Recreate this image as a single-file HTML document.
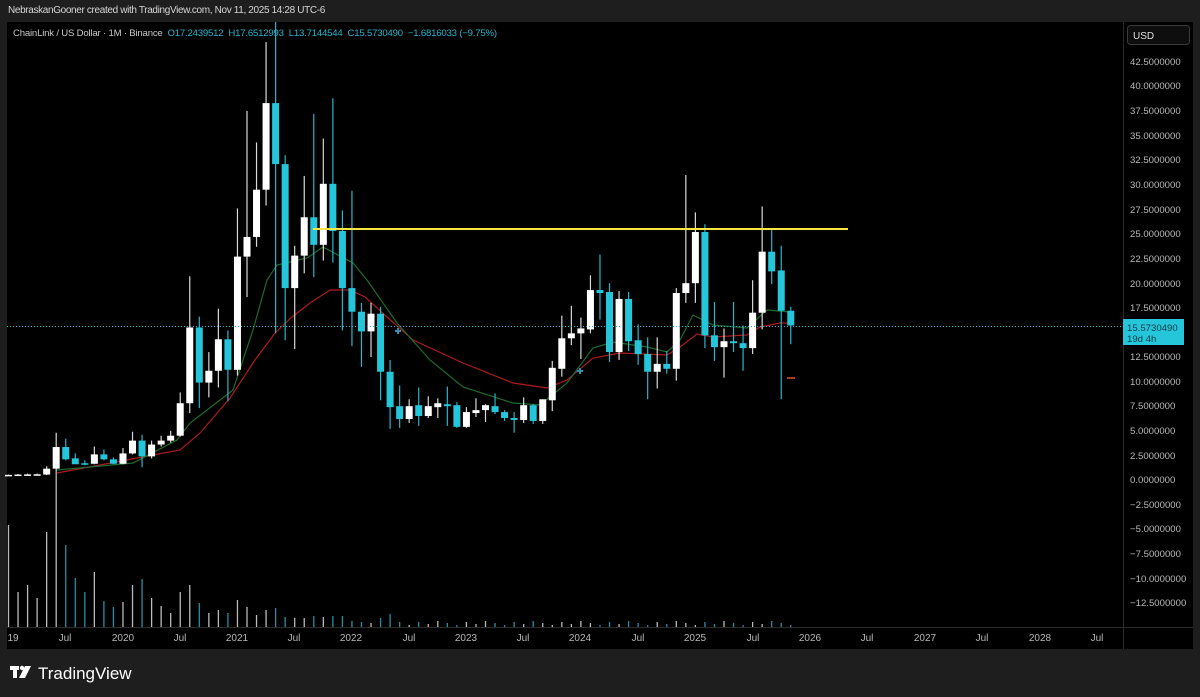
<!DOCTYPE html>
<html><head><meta charset="utf-8"><style>
html,body{margin:0;padding:0;background:#1e1e1e;width:1200px;height:697px;overflow:hidden;font-family:"Liberation Sans",sans-serif}
.t{position:absolute;white-space:nowrap}
</style></head><body>
<div class="t" style="left:8px;top:5px;font-size:10px;letter-spacing:-0.35px;color:#d6d6d6">NebraskanGooner created with TradingView.com, Nov 11, 2025 14:28 UTC-6</div>
<svg id="s" width="1200" height="697" style="position:absolute;left:0;top:0" xmlns="http://www.w3.org/2000/svg">
<rect x="7" y="22" width="1186" height="627" fill="#000"/>
<line x1="1123.5" y1="22" x2="1123.5" y2="649" stroke="#2a2a2a"/>
<line x1="7" y1="627.5" x2="1193" y2="627.5" stroke="#2a2a2a"/>
<rect x="1127.5" y="25.5" width="62" height="19" rx="3" fill="#0e0e0e" stroke="#3a3a3a"/>
<text x="1133" y="39" font-size="10" fill="#e0e0e0" font-family="Liberation Sans">USD</text>
<g id="vol"></g>
<g id="ma"></g>
<g id="c"></g>
<line x1="7" y1="326.5" x2="1123" y2="326.5" stroke="#22b8cf" stroke-dasharray="1 2" stroke-width="1"/>
<line x1="313" y1="229" x2="848" y2="229" stroke="#f5e642" stroke-width="2"/>
<line x1="787" y1="378" x2="795" y2="378" stroke="#e0502a" stroke-width="1.5"/>
<g fill="#2f8fb0"><rect x="395" y="330" width="6" height="2"/><rect x="397" y="328" width="2" height="6"/><rect x="577" y="370" width="6" height="2"/><rect x="579" y="368" width="2" height="6"/></g>
<rect x="1123" y="319" width="61" height="26" fill="#26c6da"/>
<g font-size="9.6" fill="#0b3c46" font-family="Liberation Sans"><text x="1127" y="331">15.5730490</text><text x="1127" y="342">19d 4h</text></g>
<g font-size="9.6" fill="#b8b8b8" font-family="Liberation Sans">
<text x="1130" y="65">42.5000000</text><text x="1130" y="89">40.0000000</text><text x="1130" y="114">37.5000000</text><text x="1130" y="139">35.0000000</text><text x="1130" y="163">32.5000000</text><text x="1130" y="188">30.0000000</text><text x="1130" y="213">27.5000000</text><text x="1130" y="237">25.0000000</text><text x="1130" y="262">22.5000000</text><text x="1130" y="287">20.0000000</text><text x="1130" y="311">17.5000000</text><text x="1130" y="360">12.5000000</text><text x="1130" y="385">10.0000000</text><text x="1130" y="409">7.5000000</text><text x="1130" y="434">5.0000000</text><text x="1130" y="459">2.5000000</text><text x="1130" y="483">0.0000000</text><text x="1130" y="508">−2.5000000</text><text x="1130" y="532">−5.0000000</text><text x="1130" y="557">−7.5000000</text><text x="1130" y="582">−10.0000000</text><text x="1130" y="606">−12.5000000</text>
</g>
<g font-size="10" fill="#b8b8b8" font-family="Liberation Sans" text-anchor="middle">
<text x="13" y="641">19</text><text x="65" y="641">Jul</text><text x="123" y="641">2020</text><text x="180" y="641">Jul</text><text x="237" y="641">2021</text><text x="294" y="641">Jul</text><text x="351" y="641">2022</text><text x="409" y="641">Jul</text><text x="466" y="641">2023</text><text x="523" y="641">Jul</text><text x="580" y="641">2024</text><text x="638" y="641">Jul</text><text x="695" y="641">2025</text><text x="753" y="641">Jul</text><text x="810" y="641">2026</text><text x="867" y="641">Jul</text><text x="925" y="641">2027</text><text x="982" y="641">Jul</text><text x="1040" y="641">2028</text><text x="1097" y="641">Jul</text>
</g>
<g fill="#ffffff"><rect x="10" y="666" width="9" height="4"/><rect x="13" y="666" width="4" height="12"/><circle cx="22" cy="668" r="2.2"/><polygon points="25,666 31,666 25,678 19,678"/></g>
<text x="38" y="679" font-size="17" fill="#ffffff" font-family="Liberation Sans">TradingView</text>
</svg>
<div class="t" style="left:13px;top:28px;font-size:9.6px;letter-spacing:-0.2px;color:#c8c8c8">ChainLink / US Dollar · 1M · Binance <span style="color:#26b6cc">&nbsp;O17.2439512 &nbsp;H17.6512993 &nbsp;L13.7144544 &nbsp;C15.5730490 &nbsp;−1.6816033 (−9.75%)</span></div>
<script>
var D=[[0.4,0.45,0.35,0.42],[0.42,0.5,0.38,0.45],[0.45,0.55,0.4,0.47],[0.47,0.55,0.4,0.48],[0.45,1.3,0.4,1.05],[1.05,4.7,0.9,3.25],[3.25,4.1,1.9,2.0],[2.1,2.6,1.5,1.5],[1.6,1.9,1.4,1.5],[1.55,3.3,1.5,2.5],[2.5,3.0,1.9,2.0],[2.0,2.2,1.5,1.55],[1.55,3.15,1.5,2.6],[2.6,4.8,2.5,3.9],[3.9,4.5,1.2,2.3],[2.3,3.9,2.1,3.5],[3.5,4.4,3.3,3.9],[3.9,4.9,3.7,4.4],[4.4,8.8,4.3,7.7],[7.7,20.6,6.7,15.4],[15.4,16.5,7.2,9.8],[9.8,12.9,8.3,11.0],[11.0,17.3,9.3,14.2],[14.2,15.1,7.9,11.1],[11.1,27.5,10.5,22.6],[22.6,37.4,18.5,24.6],[24.6,34.2,23.6,29.4],[29.4,44.4,27.8,38.2],[38.2,47,14.8,32.0],[32.0,32.9,14.1,19.4],[19.4,23.7,13.2,22.7],[22.7,30.8,20.9,26.6],[26.6,37.1,20.5,23.8],[23.8,34.6,22.2,30.0],[30.0,38.7,22.0,25.2],[25.2,27.3,15.1,19.4],[19.4,29.3,13.5,17.0],[17.0,17.9,11.4,15.0],[15.0,17.9,12.4,16.8],[16.8,17.5,8,10.9],[10.9,12.1,5.1,7.3],[7.4,9.5,5.2,6.1],[6.1,8.1,5.7,7.4],[7.5,9.3,5.4,6.4],[6.4,8.4,6.2,7.4],[7.3,8.2,6.2,7.7],[7.6,9.4,5.4,7.4],[7.5,7.8,5.2,5.3],[5.3,7.3,5.2,6.8],[6.7,8.2,6.3,7.0],[7.0,7.6,5.8,7.5],[7.4,8.7,6.6,6.8],[6.8,7.0,5.9,6.2],[6.2,6.8,4.7,6.0],[6.0,8.3,5.7,7.5],[7.5,7.6,5.6,5.9],[5.9,8.1,5.6,8.1],[8.0,12.0,6.9,11.3],[11.2,16.6,10.4,14.3],[14.3,17.6,13.6,14.8],[14.8,16.4,12.2,15.3],[15.2,20.7,14.8,19.2],[19.2,22.8,16.2,18.9],[19.0,19.9,11.9,12.9],[12.9,19.1,12.1,18.3],[18.3,19.0,13.0,14.0],[14.1,15.7,11.6,12.7],[12.7,14.4,8.1,10.9],[10.9,14.4,9.2,11.7],[11.7,13.0,10.7,11.2],[11.2,19.4,10.0,18.9],[18.9,30.9,17.9,19.9],[19.9,27.1,17.9,25.1],[25.1,25.9,13.3,14.6],[14.6,18.0,12.0,13.4],[13.4,15.3,10.3,14.0],[14.0,18.0,12.9,13.8],[13.8,15.6,11.0,13.3],[13.3,20.2,12.7,16.9],[16.9,27.7,15.2,23.1],[23.1,25.3,19.8,21.1],[21.2,23.7,8.1,17.1],[17.1,17.5,13.7,15.6]];
var V=[525,592,585,598,532,470,545,578,592,572,601,607,602,585,579,598,606,613,592,585,603,613,610,613,600,607,615,610,608,617,618,618,616,617,616,616,621,622,623,618,614,622];
var NS="http://www.w3.org/2000/svg";
function X(i){return 8.5+9.54*i}function Y(p){return 479-9.84*p}
function el(g,t,a){var e=document.createElementNS(NS,t);for(var k in a)e.setAttribute(k,a[k]);document.getElementById(g).appendChild(e);}
D.forEach(function(d,i){var up=d[3]>=d[0];var col=up?"#ffffff":"#26c6da";var x=X(i);
var top=Math.max(22,Y(d[1]));
el("c","line",{x1:x,x2:x,y1:top,y2:Y(d[2]),stroke:up?"#d8d8d8":"#26b6cc","stroke-width":1.2});
var y1=Y(Math.max(d[0],d[3])),y2=Y(Math.min(d[0],d[3]));if(y2-y1<1.5)y2=y1+1.5;
el("c","rect",{x:x-3.5,y:y1,width:7,height:y2-y1,fill:col});
var vt=i<V.length?V[i]:(621+((i*7)%5));
el("vol","line",{x1:x,x2:x,y1:vt,y2:627,stroke:up?"#cfcfcf":"#2a9fb4","stroke-width":1.3,opacity:0.9});
});
var R=[[57,473],[180,450],[200,433],[230,398],[255,360],[275,333],[292,317],[310,303],[330,290],[350,290],[365,297],[387,317],[413,340],[463,363],[513,383],[547,388],[567,380],[593,358],[620,353],[667,355],[680,347],[697,334],[713,337],[747,335],[760,327],[780,323],[790,323]];
var G=[[57,470],[133,463],[177,440],[190,423],[207,410],[233,390],[253,330],[267,280],[277,265],[307,258],[323,247],[353,263],[367,280],[383,303],[397,323],[430,360],[463,387],[513,403],[540,405],[567,383],[593,348],[613,342],[647,347],[667,352],[680,340],[693,315],[713,325],[747,328],[767,310],[790,312]];
function pl(a,c){el("ma","polyline",{points:a.map(function(p){return p.join(",")}).join(" "),fill:"none",stroke:c,"stroke-width":1.2});}
pl(R,"#b0191c");pl(G,"#1e6a2c");
</script>
</body></html>
